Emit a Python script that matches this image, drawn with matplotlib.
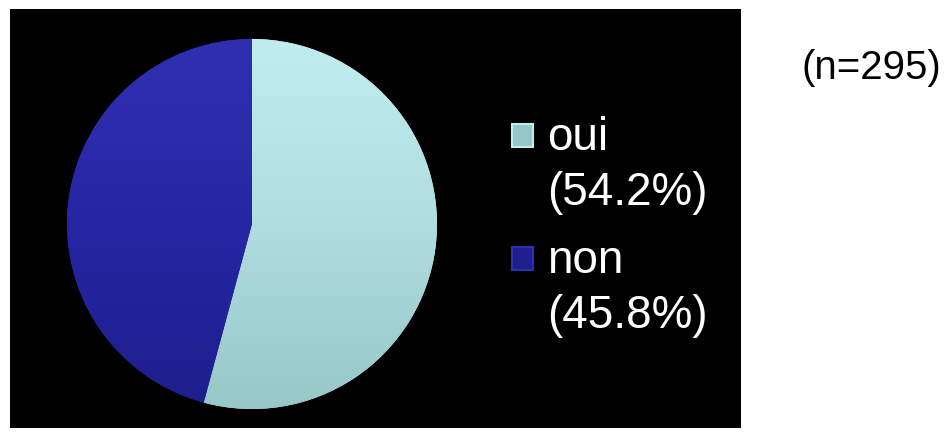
import matplotlib
matplotlib.use("Agg")
import matplotlib.pyplot as plt
import numpy as np
from matplotlib.patches import Rectangle
from matplotlib.colors import LinearSegmentedColormap

categories = ["oui", "non"]
percentages = [54.2, 45.8]
n_total = 295
top_colors = ["#c0edf0", "#2f2fb2"]
mid_colors = ["#afdde0", "#2626a4"]
bottom_colors = ["#98c7c8", "#1e1e8c"]

W, H = 948, 433
fig = plt.figure(figsize=(W / 100, H / 100), dpi=100)
fig.patch.set_facecolor("white")

# black panel
bg = fig.add_axes([10 / W, 5 / H, 731 / W, 419 / H])
bg.set_facecolor("black")
bg.set_xticks([]); bg.set_yticks([])
for s in bg.spines.values():
    s.set_visible(False)

# pie
cx, cy, r = 252, 224, 185
ax = fig.add_axes([(cx - r) / W, (H - cy - r) / H, 2 * r / W, 2 * r / H])
ax.set_facecolor("none")
wedges, _ = ax.pie(percentages, startangle=90, counterclock=False,
                   colors=top_colors, radius=1.0,
                   wedgeprops=dict(linewidth=0))
ax.set_xlim(-1, 1); ax.set_ylim(-1, 1)
ax.set_aspect("equal")
ax.axis("off")

grad = np.linspace(0, 1, 256).reshape(-1, 1)
for w, ct, cm, cb in zip(wedges, top_colors, mid_colors, bottom_colors):
    cmap = LinearSegmentedColormap.from_list("g", [cb, cm, ct])
    im = ax.imshow(grad, cmap=cmap, extent=[-1, 1, -1, 1], origin="lower",
                   aspect="auto", zorder=w.get_zorder() + 0.1)
    im.set_clip_path(w)
ax.set_xlim(-1, 1); ax.set_ylim(-1, 1)

# legend
font = "Liberation Sans"
fs = 33
entries_y = [150, 273]
for cat, pct, ct, cb, yb in zip(categories, percentages, top_colors, bottom_colors, entries_y):
    fig.patches.append(Rectangle((512 / W, (H - yb + 3) / H), 21 / W, 23 / H,
                                 transform=fig.transFigure, facecolor=cb,
                                 edgecolor=ct, linewidth=1.5))
    fig.text(547 / W, (H - yb) / H, cat, color="white", fontsize=fs,
             family=font, va="baseline", ha="left")
    fig.text(547 / W, (H - yb - 55) / H, f"({pct:.1f}%)", color="white",
             fontsize=fs, family=font, va="baseline", ha="left")

fig.text(871 / W, (H - 68) / H, f"(n={n_total})", color="black", fontsize=29,
         family=font, va="center", ha="center")

fig.savefig("out.png", dpi=100, facecolor="white")
